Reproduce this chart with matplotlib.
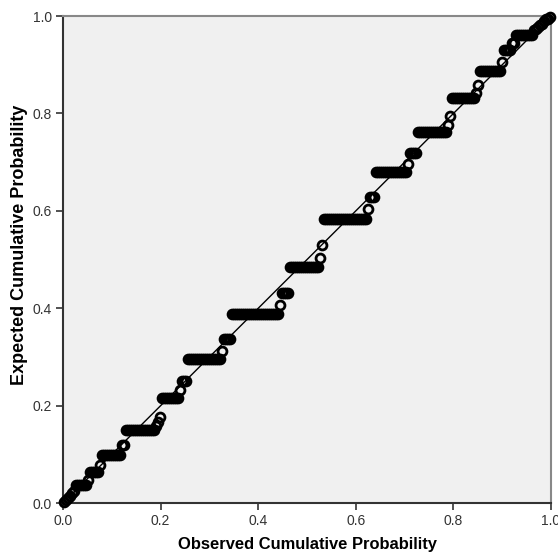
import matplotlib.pyplot as plt
import numpy as np

plt.rcParams['font.family'] = ['Liberation Sans', 'DejaVu Sans']

# expected cumulative probability of each distinct value, in rank order
expected = [0.003, 0.007, 0.011, 0.015, 0.020, 0.025, 0.038, 0.047, 0.063, 0.078,
            0.099, 0.119, 0.150, 0.158, 0.166, 0.177, 0.216, 0.232, 0.250, 0.296,
            0.312, 0.337, 0.388, 0.407, 0.431, 0.485, 0.503, 0.530, 0.583, 0.604,
            0.628, 0.680, 0.696, 0.719, 0.762, 0.776, 0.795, 0.832, 0.842, 0.858,
            0.887, 0.906, 0.930, 0.945, 0.961, 0.971, 0.974, 0.978, 0.981, 0.984,
            0.990, 0.993, 0.995, 0.999]
# number of cases tied at each value
counts = [1, 1, 1, 1, 1, 1, 6, 1, 5, 1,
          10, 2, 15, 1, 1, 1, 9, 1, 3, 17,
          1, 4, 24, 1, 4, 15, 1, 1, 22, 1,
          3, 16, 1, 4, 15, 1, 1, 12, 1, 1,
          11, 1, 4, 2, 9, 1, 1, 1, 1, 1,
          1, 1, 1, 1]

exp_y = np.repeat(expected, counts)
n = len(exp_y)
obs_x = (np.arange(1, n + 1) - 0.375) / (n + 0.25)  # Blom ranks

fig = plt.figure(figsize=(5.58, 5.54), dpi=100)
ax = fig.add_axes([0.113, 0.092, 0.8745, 0.879])
ax.set_facecolor('#f0f0f0')

ax.plot([0, 1], [0, 1], color='black', lw=1.0, zorder=2)
ax.plot(obs_x, exp_y, 'o', ms=6.4, mfc='none', mec='black', mew=2.0, zorder=3, clip_on=False)

ax.set_xlim(0, 1)
ax.set_ylim(0, 1)
ticks = [0.0, 0.2, 0.4, 0.6, 0.8, 1.0]
ax.set_xticks(ticks)
ax.set_yticks(ticks)
ax.set_xticklabels([f"{t:.1f}" for t in ticks])
ax.set_yticklabels([f"{t:.1f}" for t in ticks])
ax.tick_params(direction='out', length=5, width=1.2, color='#333333',
               labelsize=10, labelcolor='#333333', pad=3)

for s in ['left', 'bottom']:
    ax.spines[s].set_color('#333333')
    ax.spines[s].set_linewidth(1.5)
for s in ['top', 'right']:
    ax.spines[s].set_color('#888888')
    ax.spines[s].set_linewidth(1.5)

fig.text(307 / 558, 1 - 545 / 554, "Observed Cumulative Probability",
         fontsize=11.9, fontweight='bold', ha='center', va='center')
fig.text(20 / 558, 1 - 245 / 554, "Expected Cumulative Probability",
         fontsize=13, fontweight='bold', ha='center', va='center', rotation=90)

plt.savefig("out.png", dpi=100)
